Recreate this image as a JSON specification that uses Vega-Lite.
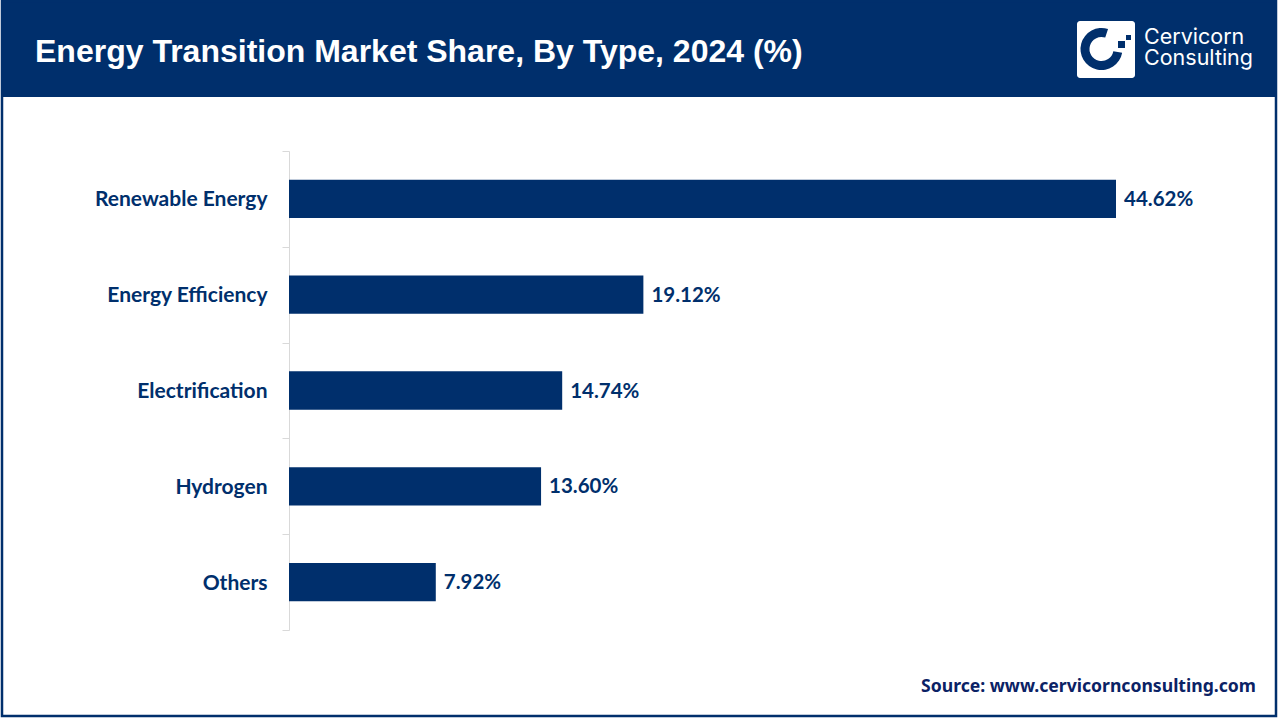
{
  "$schema": "https://vega.github.io/schema/vega-lite/v6.json",
  "width": 827,
  "height": 479,
  "autosize": "none",
  "padding": {"left": 289, "top": 151, "right": 164, "bottom": 90},
  "background": "white",
  "view": {"stroke": null},
  "title": {
    "text": "Energy Transition Market Share, By Type, 2024 (%)",
    "anchor": "start",
    "frame": "group",
    "dx": -254,
    "offset": -69,
    "font": "Liberation Sans",
    "fontSize": 32,
    "fontWeight": "bold",
    "color": "white"
  },
  "data": {
    "values": [
      {"type": "Renewable Energy", "share": 0.4462},
      {"type": "Energy Efficiency", "share": 0.1912},
      {"type": "Electrification", "share": 0.1474},
      {"type": "Hydrogen", "share": 0.136},
      {"type": "Others", "share": 0.0792}
    ]
  },
  "layer": [
    {
      "data": {"values": [{"part": "banner"}]},
      "mark": {"type": "rect", "color": "#002f6c"},
      "encoding": {
        "x": {"value": -288},
        "x2": {"value": 988},
        "y": {"value": -150},
        "y2": {"value": -54}
      }
    },
    {
      "data": {"values": [{"part": "frame"}]},
      "mark": {"type": "rect", "fillOpacity": 0, "stroke": "#002f6c", "strokeWidth": 2.5},
      "encoding": {
        "x": {"value": -287},
        "x2": {"value": 987},
        "y": {"value": -150},
        "y2": {"value": 565}
      }
    },
    {
      "data": {"values": [{"part": "logo"}]},
      "mark": {"type": "rect", "color": "white", "cornerRadius": 3},
      "encoding": {
        "x": {"value": 788},
        "x2": {"value": 846},
        "y": {"value": -130},
        "y2": {"value": -73}
      }
    },
    {
      "data": {"values": [{"part": "logo"}]},
      "mark": {"type": "arc", "color": "#002f6c", "radius": 21, "radius2": 12, "theta": 1.75, "theta2": 6.6},
      "encoding": {
        "x": {"value": 812.5},
        "y": {"value": -102}
      }
    },
    {
      "data": {"values": [{"part": "logo"}]},
      "mark": {"type": "rect", "color": "#002f6c"},
      "encoding": {
        "x": {"value": 837},
        "x2": {"value": 842},
        "y": {"value": -116},
        "y2": {"value": -111}
      }
    },
    {
      "data": {"values": [{"part": "logo"}]},
      "mark": {"type": "rect", "color": "#002f6c"},
      "encoding": {
        "x": {"value": 829},
        "x2": {"value": 836},
        "y": {"value": -110},
        "y2": {"value": -103}
      }
    },
    {
      "data": {"values": [{"name": ["Cervicorn", "Consulting"]}]},
      "mark": {"type": "text", "align": "left", "baseline": "alphabetic", "lineHeight": 21, "font": "Inter", "fontSize": 21.5, "color": "white"},
      "encoding": {
        "text": {"field": "name"},
        "x": {"value": 855},
        "y": {"value": -107}
      }
    },
    {
      "mark": {"type": "bar", "color": "#002f6c", "height": {"band": 0.4}},
      "encoding": {
        "y": {
          "field": "type",
          "type": "nominal",
          "sort": null,
          "title": null,
          "scale": {"padding": 0},
          "axis": {
            "domainColor": "#d9d9d9",
            "tickColor": "#d9d9d9",
            "tickBand": "extent",
            "tickSize": 7,
            "labelPadding": 15,
            "labelOffset": 1,
            "labelFont": "Lato",
            "labelFontSize": 21,
            "labelFontWeight": "bold",
            "labelColor": "#002f6c"
          }
        },
        "x": {
          "field": "share",
          "type": "quantitative",
          "scale": {"domain": [0, 0.4462], "nice": false},
          "axis": null
        }
      }
    },
    {
      "mark": {"type": "text", "align": "left", "dx": 8, "dy": 1, "font": "Lato", "fontSize": 20.5, "fontWeight": "bold", "color": "#002f6c"},
      "encoding": {
        "y": {"field": "type", "type": "nominal", "sort": null},
        "x": {"field": "share", "type": "quantitative"},
        "text": {"field": "share", "type": "quantitative", "format": ".2%"}
      }
    },
    {
      "data": {"values": [{"source": "Source: www.cervicornconsulting.com"}]},
      "mark": {"type": "text", "align": "right", "baseline": "alphabetic", "font": "Noto Sans", "fontSize": 17.6, "fontWeight": "bold", "color": "#0b2265"},
      "encoding": {
        "text": {"field": "source"},
        "x": {"value": 967},
        "y": {"value": 541}
      }
    }
  ]
}
